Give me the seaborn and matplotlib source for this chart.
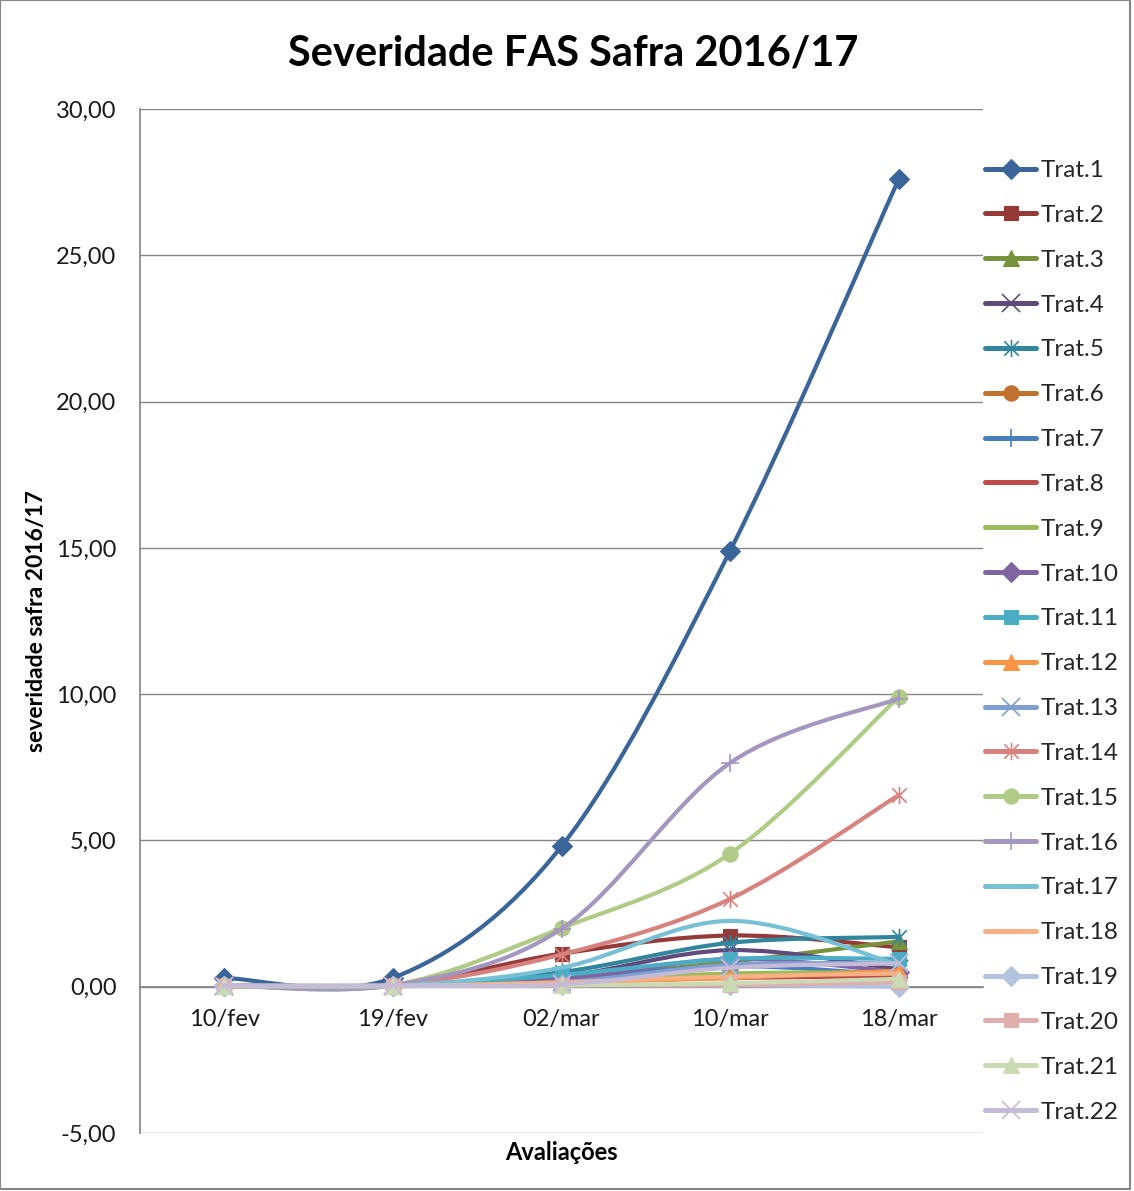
import numpy as np
import pandas as pd
import matplotlib
matplotlib.use("Agg")
import matplotlib.pyplot as plt
import seaborn as sns
from matplotlib.path import Path
from matplotlib.patches import PathPatch, Rectangle
from matplotlib.lines import Line2D
from matplotlib.ticker import FuncFormatter

# Avaliacoes (datas) e severidade por tratamento
datas = ['10/fev', '19/fev', '02/mar', '10/mar', '18/mar']

trat_1 = [0.30, 0.30, 4.80, 14.90, 27.60]
trat_2 = [0.05, 0.05, 1.13, 1.75, 1.35]
trat_3 = [0.03, 0.03, 0.30, 0.85, 1.55]
trat_4 = [0.02, 0.02, 0.35, 1.25, 0.60]
trat_5 = [0.05, 0.05, 0.50, 1.50, 1.70]
trat_6 = [0.02, 0.02, 0.20, 0.40, 0.40]
trat_7 = [0.03, 0.03, 0.25, 0.70, 0.40]
trat_8 = [0.02, 0.02, 0.15, 0.30, 0.35]
trat_9 = [0.02, 0.02, 0.20, 0.45, 0.50]
trat_10 = [0.03, 0.03, 0.25, 0.95, 0.50]
trat_11 = [0.03, 0.03, 0.40, 0.95, 0.95]
trat_12 = [0.02, 0.02, 0.15, 0.30, 0.55]
trat_13 = [0.03, 0.03, 0.15, 0.75, 0.80]
trat_14 = [0.05, 0.05, 1.10, 3.00, 6.55]
trat_15 = [0.05, 0.05, 2.00, 4.55, 9.90]
trat_16 = [0.05, 0.05, 1.98, 7.65, 9.85]
trat_17 = [0.03, 0.03, 0.65, 2.25, 0.75]
trat_18 = [0.02, 0.02, 0.15, 0.35, 0.45]
trat_19 = [0.02, 0.02, 0.05, 0.05, 0.00]
trat_20 = [0.03, 0.03, 0.05, 0.05, 0.15]
trat_21 = [0.03, 0.03, 0.05, 0.12, 0.27]
trat_22 = [0.04, 0.04, 0.08, 0.65, 0.80]

series = [trat_1, trat_2, trat_3, trat_4, trat_5, trat_6, trat_7, trat_8, trat_9, trat_10, trat_11,
          trat_12, trat_13, trat_14, trat_15, trat_16, trat_17, trat_18, trat_19, trat_20, trat_21, trat_22]
nomes = ['Trat.%d' % (i + 1) for i in range(len(series))]

df = pd.DataFrame(series, index=nomes, columns=datas)

# Excel-like colours and markers
cores = ['#3A659A', '#953A38', '#76923C', '#604A7B', '#31859C', '#C0702F',
         '#4A7EBB', '#BE4B48', '#9BBB59', '#8064A2', '#4BACC6', '#F79646',
         '#7F9FD3', '#D7827F', '#AFCB86', '#A596C0', '#78C0D6', '#F9B084',
         '#B3C3DF', '#DFAFAE', '#CADBB4', '#C5BBD8']

asterisco = Path([(-1, -1), (1, 1), (-1, 1), (1, -1), (0, -1.2), (0, 1.2)],
                 [Path.MOVETO, Path.LINETO, Path.MOVETO, Path.LINETO, Path.MOVETO, Path.LINETO])
marcadores = ['D', 's', '^', 'x', asterisco, 'o', '+', None, None,
              'D', 's', '^', 'x', asterisco, 'o', '+', None, None,
              'D', 's', '^', 'x']


def estilo_marcador(m, cor):
    # filled markers vs line-art markers
    if m is None:
        return dict(marker='None')
    if isinstance(m, str) and m in 'Dso^':
        size = {'D': 10.5, 's': 10.5, 'o': 11, '^': 11.5}[m]
        return dict(marker=m, markersize=size, markerfacecolor=cor, markeredgecolor=cor, markeredgewidth=0.8)
    return dict(marker=m, markersize=12.5, markerfacecolor='none', markeredgecolor=cor, markeredgewidth=1.2)


def curva_suave(xs, ys):
    # smoothed line like Excel (catmull-rom as bezier)
    pts = np.column_stack([xs, ys]).astype(float)
    verts = [pts[0]]
    codes = [Path.MOVETO]
    for i in range(len(pts) - 1):
        p0 = pts[i - 1] if i > 0 else pts[i]
        p1 = pts[i]
        p2 = pts[i + 1]
        p3 = pts[i + 2] if i + 2 < len(pts) else pts[i + 1]
        verts += [p1 + (p2 - p0) / 6.0, p2 - (p3 - p1) / 6.0, p2]
        codes += [Path.CURVE4] * 3
    return Path(verts, codes)


sns.set_theme(style='white')
plt.rcParams['font.family'] = ['Lato', 'DejaVu Sans']

fig = plt.figure(figsize=(11.34, 11.91), dpi=100)
ax = fig.add_axes([140 / 1134, 1 - 1133 / 1191, 843 / 1134, 1024 / 1191])

x = np.arange(len(datas))
handles = []
for i, nome in enumerate(nomes):
    cor = cores[i]
    ys = df.loc[nome].values
    ax.add_patch(PathPatch(curva_suave(x, ys), facecolor='none', edgecolor=cor, lw=3.0,
                           capstyle='round', joinstyle='round', zorder=3 + i * 0.01))
    est = estilo_marcador(marcadores[i], cor)
    if est['marker'] != 'None':
        ax.plot(x, ys, linestyle='none', zorder=3.005 + i * 0.01, **est)
    handles.append(Line2D([], [], color=cor, lw=3.6, solid_capstyle='round', **est))

ax.set_xlim(-0.5, len(datas) - 0.5)
ax.set_ylim(-5, 30)
ax.set_yticks(np.arange(-5, 31, 5))
ax.yaxis.set_major_formatter(FuncFormatter(lambda v, p: ('%.2f' % v).replace('.', ',')))
ax.set_xticks(x)
ax.set_xticklabels(datas)

ax.grid(axis='y', color='#868686', lw=1)
ax.grid(axis='x', visible=False)
for s in ['top', 'right']:
    ax.spines[s].set_visible(False)
ax.spines['left'].set_color('#868686')
ax.spines['bottom'].set_position(('data', 0))
ax.spines['bottom'].set_color('#868686')
ax.tick_params(axis='y', length=0, pad=17, labelsize=17, labelcolor='#1a1a1a')
ax.tick_params(axis='x', length=0, pad=16, labelsize=17, labelcolor='#1a1a1a')

fig.text(573 / 1134, 1 - 53 / 1191, 'Severidade FAS Safra 2016/17', ha='center', va='center',
         fontsize=30, fontweight='bold', color='black')
fig.text(37 / 1134, 1 - 621 / 1191, 'severidade safra 2016/17', ha='center', va='center',
         rotation=90, fontsize=16.5, fontweight='bold', color='black')
fig.text(561 / 1134, 1 - 1152 / 1191, 'Avaliações', ha='center', va='center',
         fontsize=17, fontweight='bold', color='black')

fig.legend(handles, nomes, loc='upper left', bbox_to_anchor=(985 / 1134, 1 - 160 / 1191),
           frameon=False, fontsize=17.5, handlelength=2.1, handletextpad=0.2,
           labelspacing=0.98, borderaxespad=0, borderpad=0)

fig.add_artist(Rectangle((0, 1 - 1189 / 1191), 1130 / 1134, 1189 / 1191, transform=fig.transFigure,
                         fill=False, edgecolor='#868686', lw=1.5))

fig.savefig('out.png', dpi=100, facecolor='white')
